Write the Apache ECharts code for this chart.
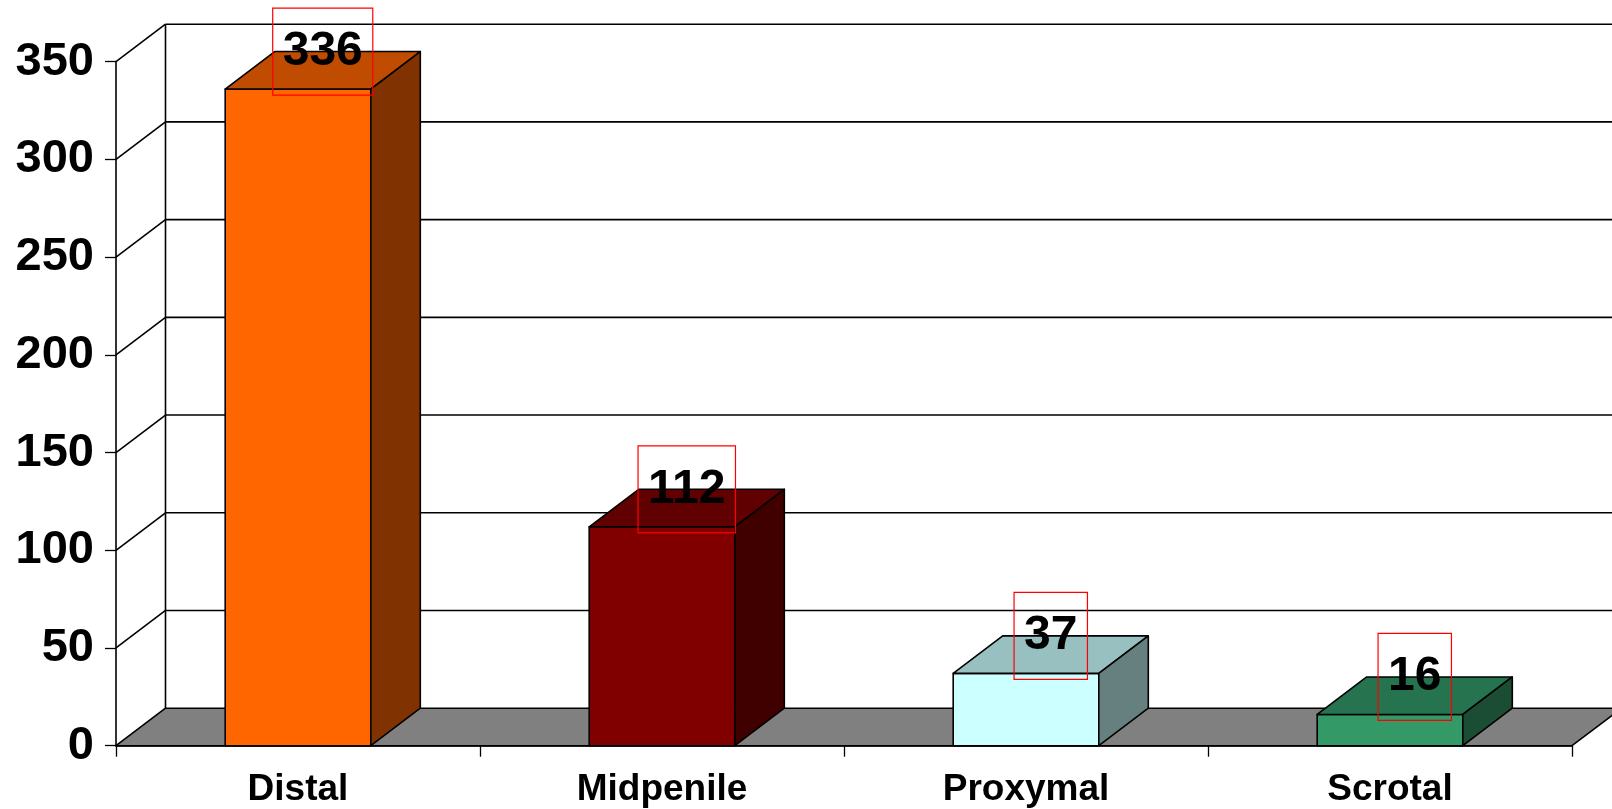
<!DOCTYPE html>
<html>
<head>
<meta charset="utf-8">
<script src="https://cdn.jsdelivr.net/npm/echarts@6/dist/echarts.min.js"></script>
<style>
  html, body { margin: 0; padding: 0; background: #ffffff; }
  #chart { width: 1612px; height: 809px; }
</style>
</head>
<body>
<div id="chart"></div>
<script>
// Hypospadias location counts
const categories = ['Distal', 'Midpenile', 'Proxymal', 'Scrotal'];
const counts = [336, 112, 37, 16];
const yTicks = [0, 50, 100, 150, 200, 250, 300, 350];

// Face colours of each 3D column: front, top, side
const frontColors = ['#FF6600', '#800000', '#CCFFFF', '#339966'];
const topColors = ['#BF4C00', '#600000', '#99C0C0', '#267350'];
const sideColors = ['#803300', '#400000', '#668080', '#1A4D33'];

// Oblique projection offset for the depth of the plot
const DX = 49.5, DY = 37.5;
const FONT = '"Liberation Sans", Arial, sans-serif';
const EDGE = { stroke: '#000000', lineWidth: 1.6, lineJoin: 'round' };

// Walls, gridlines and floor, one item per value tick
function renderWalls(params, api) {
  const v = api.value(1);
  const cs = params.coordSys;
  const y = api.coord([0, v])[1];
  const xl = cs.x, xr = cs.x + cs.width;
  const children = [];
  if (v === 0) {
    children.push({
      type: 'polygon',
      shape: { points: [[xl, y], [xr, y], [xr + DX, y - DY], [xl + DX, y - DY]] },
      style: Object.assign({ fill: '#808080' }, EDGE)
    });
  } else {
    children.push({
      type: 'line',
      shape: { x1: xl, y1: y, x2: xl + DX, y2: y - DY },
      style: Object.assign({}, EDGE)
    });
    children.push({
      type: 'line',
      shape: { x1: xl + DX, y1: y - DY, x2: xr + DX, y2: y - DY },
      style: Object.assign({}, EDGE)
    });
  }
  if (v === yTicks[yTicks.length - 1]) {
    const y0 = api.coord([0, 0])[1];
    children.push({
      type: 'line',
      shape: { x1: xl + DX, y1: y0 - DY, x2: xl + DX, y2: y - DY },
      style: Object.assign({}, EDGE)
    });
  }
  return { type: 'group', children: children };
}

// A 3D column with its value label in a red frame
function renderColumn(params, api) {
  const i = api.value(0);
  const v = api.value(1);
  const base = api.coord([i, 0]);
  const top = api.coord([i, v]);
  const w = api.size([1, 0])[0] * 0.4;
  const x0 = base[0] - w / 2, x1 = base[0] + w / 2;
  const yb = base[1], yt = top[1];
  return {
    type: 'group',
    children: [
      {
        type: 'polygon',
        shape: { points: [[x0, yb], [x1, yb], [x1, yt], [x0, yt]] },
        style: Object.assign({ fill: frontColors[i] }, EDGE)
      },
      {
        type: 'polygon',
        shape: { points: [[x0, yt], [x1, yt], [x1 + DX, yt - DY], [x0 + DX, yt - DY]] },
        style: Object.assign({ fill: topColors[i] }, EDGE)
      },
      {
        type: 'polygon',
        shape: { points: [[x1, yb], [x1 + DX, yb - DY], [x1 + DX, yt - DY], [x1, yt]] },
        style: Object.assign({ fill: sideColors[i] }, EDGE)
      },
      {
        type: 'text',
        z2: 10,
        style: {
          text: String(v),
          x: base[0] + DX / 2,
          y: yt - DY,
          align: 'center',
          verticalAlign: 'middle',
          fontFamily: FONT,
          fontWeight: 'bold',
          fontSize: 48,
          lineHeight: 47,
          fill: '#000000',
          borderColor: '#FF0000',
          borderWidth: 1.2,
          padding: [20, 10]
        }
      }
    ]
  };
}

const chart = echarts.init(document.getElementById('chart'), null, { renderer: 'canvas' });
chart.setOption({
  animation: false,
  backgroundColor: '#ffffff',
  grid: { left: 116, right: 40, top: 61.7, bottom: 63.3, containLabel: false },
  xAxis: {
    type: 'category',
    data: categories,
    boundaryGap: true,
    axisLine: { show: true, lineStyle: { color: '#000000', width: 1.6 } },
    axisTick: { show: true, alignWithLabel: false, length: 11, lineStyle: { color: '#000000', width: 1.3 } },
    axisLabel: {
      interval: 0,
      margin: 26,
      color: '#000000',
      fontFamily: FONT,
      fontWeight: 'bold',
      fontSize: 37
    },
    splitLine: { show: false }
  },
  yAxis: {
    type: 'value',
    min: 0,
    max: 350,
    interval: 50,
    axisLine: { show: true, lineStyle: { color: '#000000', width: 1.6 } },
    axisTick: { show: true, length: 11, lineStyle: { color: '#000000', width: 1.3 } },
    axisLabel: {
      margin: 22,
      color: '#000000',
      fontFamily: FONT,
      fontWeight: 'bold',
      fontSize: 47
    },
    splitLine: { show: false }
  },
  series: [
    {
      type: 'custom',
      z: 1,
      renderItem: renderWalls,
      data: yTicks.map(function (v) { return [0, v]; }),
      silent: true
    },
    {
      type: 'custom',
      z: 3,
      renderItem: renderColumn,
      data: counts.map(function (v, i) { return [i, v]; })
    }
  ]
});
</script>
</body>
</html>
